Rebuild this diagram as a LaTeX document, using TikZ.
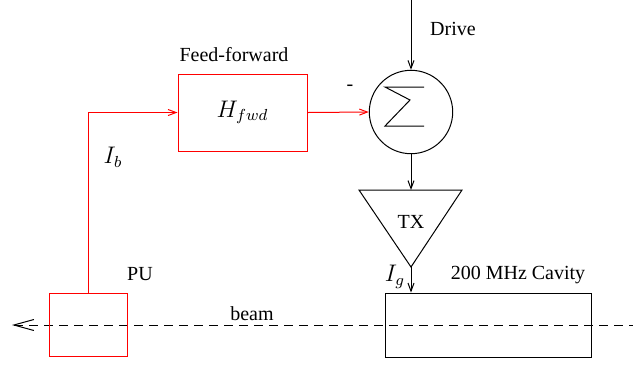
\documentclass[tikz,border=0pt]{standalone}
\usepackage{fontspec}
\setmainfont{Liberation Serif}
\usetikzlibrary{arrows.meta,positioning}

\tikzset{
	redbox/.style={draw=red, inner sep=0pt},
	blackbox/.style={draw, inner sep=0pt},
	beamline/.style={dash pattern=on 4.5pt off 3pt, {Straight Barb[length=10pt,width=5.5pt]}-},
}

\begin{document}
\begin{tikzpicture}[x=0.5pt, y=-0.5pt, line width=0.5pt, >={Straight Barb[length=4pt,width=3pt]}]
		
		\useasboundingbox (0,0) rectangle (643,366);
		
		%Beam
		\coordinate (beamL) at (12,325);
		\coordinate (beamR) at (633,325);
		\draw[beamline] (beamL) -- (beamR);
		\node (beamlab) at (252,314) {beam};
		
		%Pick-up
		\node[redbox, minimum width=39pt, minimum height=31.5pt] (pu) at (88,325) {};
		\node (pulab) at (140,274) {PU};
		
		%Feed-forward
		\node[redbox, minimum width=64.5pt, minimum height=38.5pt] (hfwd) at (242.5,112.5) {\large $H_{fwd}$};
		\node (ffwd) at (234,55) {Feed-forward};
		\draw[red,->] (pu.north) |- (hfwd.west);
		\node (ib) at (113,157) {\large $I_b$};
		
		%Sum
		\node[draw, circle, minimum size=41.7pt, inner sep=0pt] (sum) at (411,112) {};
		\draw (sum.center) ++(13,-25) -- ++(-39,0) -- ++(25,13) -- ++(-25,26) -- ++(39,0);
		\draw[red,->] (hfwd.east) -- (sum.west);
		\node (minus) at (350,88) {-};
		
		%Drive
		\coordinate (drv) at (411,0);
		\draw[->] (drv) -- (sum.north);
		\node (drive) at (453,29) {Drive};
		
		%Transmitter
		\coordinate (txL) at (359,190);
		\coordinate (txR) at (462,190);
		\coordinate (txB) at (411,267);
		\coordinate (txT) at (411,190);
		\draw (txL) -- (txR) -- (txB) -- cycle;
		\node (tx) at (411,222) {TX};
		\draw[->] (sum.south) -- (txT);
		
		%Cavity
		\node[blackbox, minimum width=103pt, minimum height=32pt] (cav) at (488,325) {};
		\node (cavlab) at (518,275) {200 MHz Cavity};
		\draw[->] (txB) -- (txB |- cav.north);
		\node (ig) at (395,277) {\large $I_g$};
		
	\end{tikzpicture}
\end{document}
